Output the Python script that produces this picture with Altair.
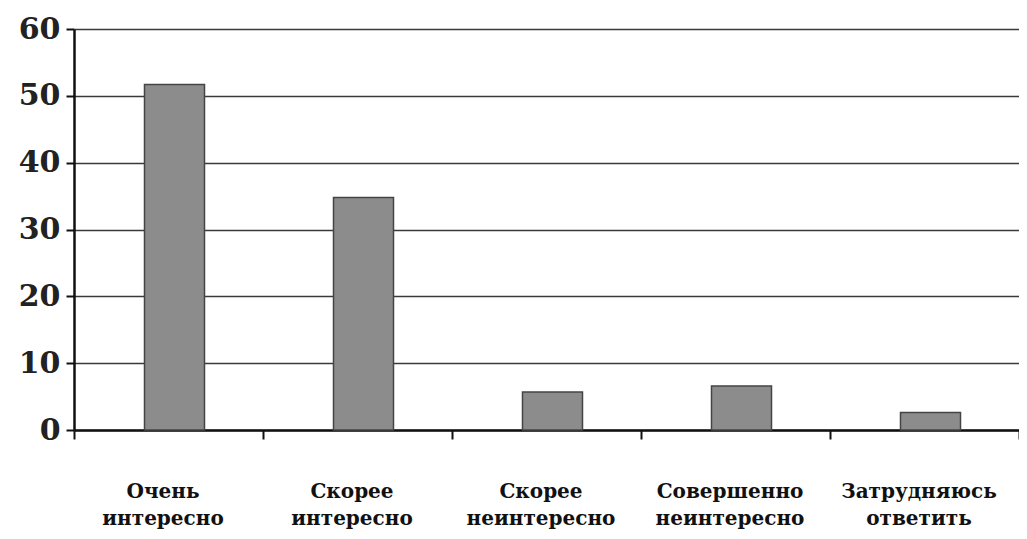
import altair as alt
import pandas as pd

categories = ["Очень интересно", "Скорее интересно", "Скорее неинтересно",
              "Совершенно неинтересно", "Затрудняюсь ответить"]
values = [51.7, 34.8, 5.7, 6.6, 2.6]

df = pd.DataFrame({"cat": categories, "val": values})

bars = alt.Chart(df).mark_bar(
    size=60, xOffset=6, color="#8c8c8c", stroke="#444444", strokeWidth=1.5
).encode(
    x=alt.X("cat:N", sort=categories, title=None,
            scale=alt.Scale(paddingInner=0, paddingOuter=0),
            axis=alt.Axis(
                labelAngle=0, labelFont="DejaVu Serif", labelFontWeight="bold",
                labelFontSize=20, labelColor="#111", labelPadding=42,
                labelBaseline="top", labelLineHeight=27, labelOffset=-6,
                labelExpr="split(datum.label, ' ')",
                tickBand="extent", tickSize=9, tickColor="#111", tickWidth=2,
                domainColor="#111", domainWidth=2.5, grid=False,
            )),
    y=alt.Y("val:Q", title=None,
            scale=alt.Scale(domain=[0, 60], nice=False),
            axis=alt.Axis(
                values=[0, 10, 20, 30, 40, 50, 60],
                labelFont="DejaVu Serif", labelFontSize=30, labelFontWeight="bold",
                labelColor="#222", labelPadding=6,
                tickSize=8, tickColor="#111", tickWidth=2,
                domainColor="#111", domainWidth=2.5,
                grid=True, gridColor="#3a3a3a", gridWidth=1.6,
                minExtent=66, maxExtent=66,
            )),
)

chart = bars.properties(
    width=945, height=401,
    autosize=alt.AutoSizeParams(type="none"),
    padding={"left": 66, "top": 21, "right": 0, "bottom": 101},
    background="white",
).configure_view(stroke=None)

chart.save("out.html", embed_options={"renderer": "svg", "actions": False})
